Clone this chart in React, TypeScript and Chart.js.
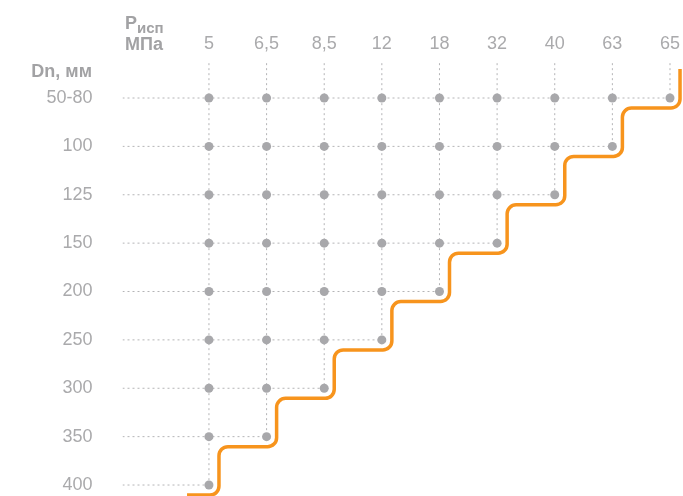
import React, { useEffect, useRef } from 'react';
import { Chart, registerables } from 'chart.js';

Chart.register(...registerables);

// Test pressure, MPa (columns)
const pressures: string[] = ['5', '6,5', '8,5', '12', '18', '32', '40', '63', '65'];
// Nominal diameter, mm (rows)
const diameters: string[] = ['50-80', '100', '125', '150', '200', '250', '300', '350', '400'];
// For each pressure: index of the largest diameter available
const maxDiameterIndex: number[] = [8, 7, 6, 5, 4, 3, 2, 1, 0];

const FONT = '"Liberation Sans", Arial, Helvetica, sans-serif';
const LABEL_COLOR = '#aaaaac';
const HEADER_COLOR = '#a2a2a4';
const GRID_COLOR = '#b4b4b6';
const DOT_COLOR = '#a8a8ab';
const ORANGE = '#f7941d';

// layout (scale units)
const X_MIN = -1.5;
const X_MAX = 8.2256;
const Y_MIN = -0.7855;
const Y_MAX = 8.227;
const GRID_TOP = -0.72;
const STEP_DX = 0.174;
const STEP_DY = 0.207;
const STEP_TOP = -0.6;
const STEP_LEFT = -0.38;
const CORNER_R = 9;

type Pt = { x: number; y: number };

function buildDots(): Pt[] {
  const pts: Pt[] = [];
  maxDiameterIndex.forEach((m, j) => {
    for (let i = 0; i <= m; i++) pts.push({ x: j, y: i });
  });
  return pts;
}

function buildGridDatasets() {
  const sets: any[] = [];
  const common = {
    showLine: true,
    borderColor: GRID_COLOR,
    borderWidth: 1,
    borderDash: [2, 3],
    pointRadius: 0,
    order: 2,
  };
  maxDiameterIndex.forEach((m, j) => {
    sets.push({ ...common, data: [{ x: j, y: GRID_TOP }, { x: j, y: m }] });
  });
  diameters.forEach((_, i) => {
    let last = 0;
    maxDiameterIndex.forEach((m, j) => {
      if (m >= i) last = j;
    });
    sets.push({ ...common, data: [{ x: X_MIN, y: i }, { x: last, y: i }] });
  });
  return sets;
}

function buildStepPath(): Pt[] {
  const n = maxDiameterIndex.length;
  const pts: Pt[] = [{ x: n - 1 + STEP_DX, y: STEP_TOP }];
  for (let j = n - 1; j >= 0; j--) {
    const yy = maxDiameterIndex[j] + STEP_DY;
    pts.push({ x: j + STEP_DX, y: yy });
    if (j > 0) pts.push({ x: j - 1 + STEP_DX, y: yy });
    else pts.push({ x: STEP_LEFT, y: yy });
  }
  return pts;
}

const stepPlugin = {
  id: 'stepLine',
  afterDatasetsDraw(chart: any) {
    const { ctx, scales } = chart;
    const pts = buildStepPath().map((p) => ({
      x: scales.x.getPixelForValue(p.x),
      y: scales.y.getPixelForValue(p.y),
    }));
    ctx.save();
    ctx.strokeStyle = ORANGE;
    ctx.lineWidth = 3.5;
    ctx.lineJoin = 'round';
    ctx.lineCap = 'butt';
    ctx.beginPath();
    ctx.moveTo(pts[0].x, pts[0].y);
    for (let k = 1; k < pts.length - 1; k++) {
      ctx.arcTo(pts[k].x, pts[k].y, pts[k + 1].x, pts[k + 1].y, CORNER_R);
    }
    const last = pts[pts.length - 1];
    ctx.lineTo(last.x, last.y);
    ctx.stroke();
    ctx.restore();
  },
};

const headerPlugin = {
  id: 'headers',
  afterDraw(chart: any) {
    const { ctx } = chart;
    ctx.save();
    ctx.fillStyle = HEADER_COLOR;
    ctx.textBaseline = 'alphabetic';
    ctx.textAlign = 'left';
    ctx.font = `bold 18px ${FONT}`;
    ctx.fillText('Р', 125, 29);
    const w = ctx.measureText('Р').width;
    ctx.font = `bold 15px ${FONT}`;
    ctx.fillText('исп', 125 + w, 33);
    ctx.font = `bold 18px ${FONT}`;
    ctx.fillText('МПа', 125, 50);
    ctx.textAlign = 'right';
    ctx.fillText('Dn, мм', 92, 77);
    ctx.restore();
  },
};

export default function App() {
  const ref = useRef<HTMLCanvasElement>(null);
  useEffect(() => {
    document.body.style.margin = '0';
    const canvas = ref.current!;
    const chart = new Chart(canvas, {
      type: 'scatter',
      data: {
        datasets: [
          {
            data: buildDots(),
            pointRadius: 4.5,
            pointBackgroundColor: DOT_COLOR,
            pointBorderWidth: 0,
            showLine: false,
            order: 1,
          } as any,
          ...buildGridDatasets(),
        ],
      },
      options: {
        responsive: false,
        animation: false,
        events: [],
        layout: { padding: 0, autoPadding: false },
        plugins: {
          legend: { display: false },
          tooltip: { enabled: false },
        },
        scales: {
          x: {
            type: 'linear',
            position: 'top',
            min: X_MIN,
            max: X_MAX,
            grid: { display: false, drawTicks: false },
            border: { display: false },
            ticks: {
              color: LABEL_COLOR,
              font: { family: FONT, size: 18 },
              padding: 5,
              autoSkip: false,
              maxRotation: 0,
              callback: (v: any) => pressures[v as number] ?? '',
            },
            afterBuildTicks: (s: any) => {
              s.ticks = pressures.map((_, i) => ({ value: i }));
            },
            afterFit: (s: any) => {
              s.height = 60;
              s.paddingLeft = 0;
              s.paddingRight = 0;
            },
          },
          y: {
            type: 'linear',
            reverse: true,
            min: Y_MIN,
            max: Y_MAX,
            grid: { display: false, drawTicks: false },
            border: { display: false },
            ticks: {
              color: LABEL_COLOR,
              font: { family: FONT, size: 18 },
              padding: 30,
              autoSkip: false,
              callback: (v: any) => diameters[v as number] ?? '',
            },
            afterBuildTicks: (s: any) => {
              s.ticks = diameters.map((_, i) => ({ value: i }));
            },
            afterFit: (s: any) => {
              s.width = 122.5;
              s.paddingTop = 0;
              s.paddingBottom = 0;
            },
          },
        },
      },
      plugins: [stepPlugin, headerPlugin],
    });
    return () => chart.destroy();
  }, []);
  return (
    <canvas
      ref={ref}
      width={683}
      height={496}
      style={{ display: 'block', width: 683, height: 496 }}
    />
  );
}
